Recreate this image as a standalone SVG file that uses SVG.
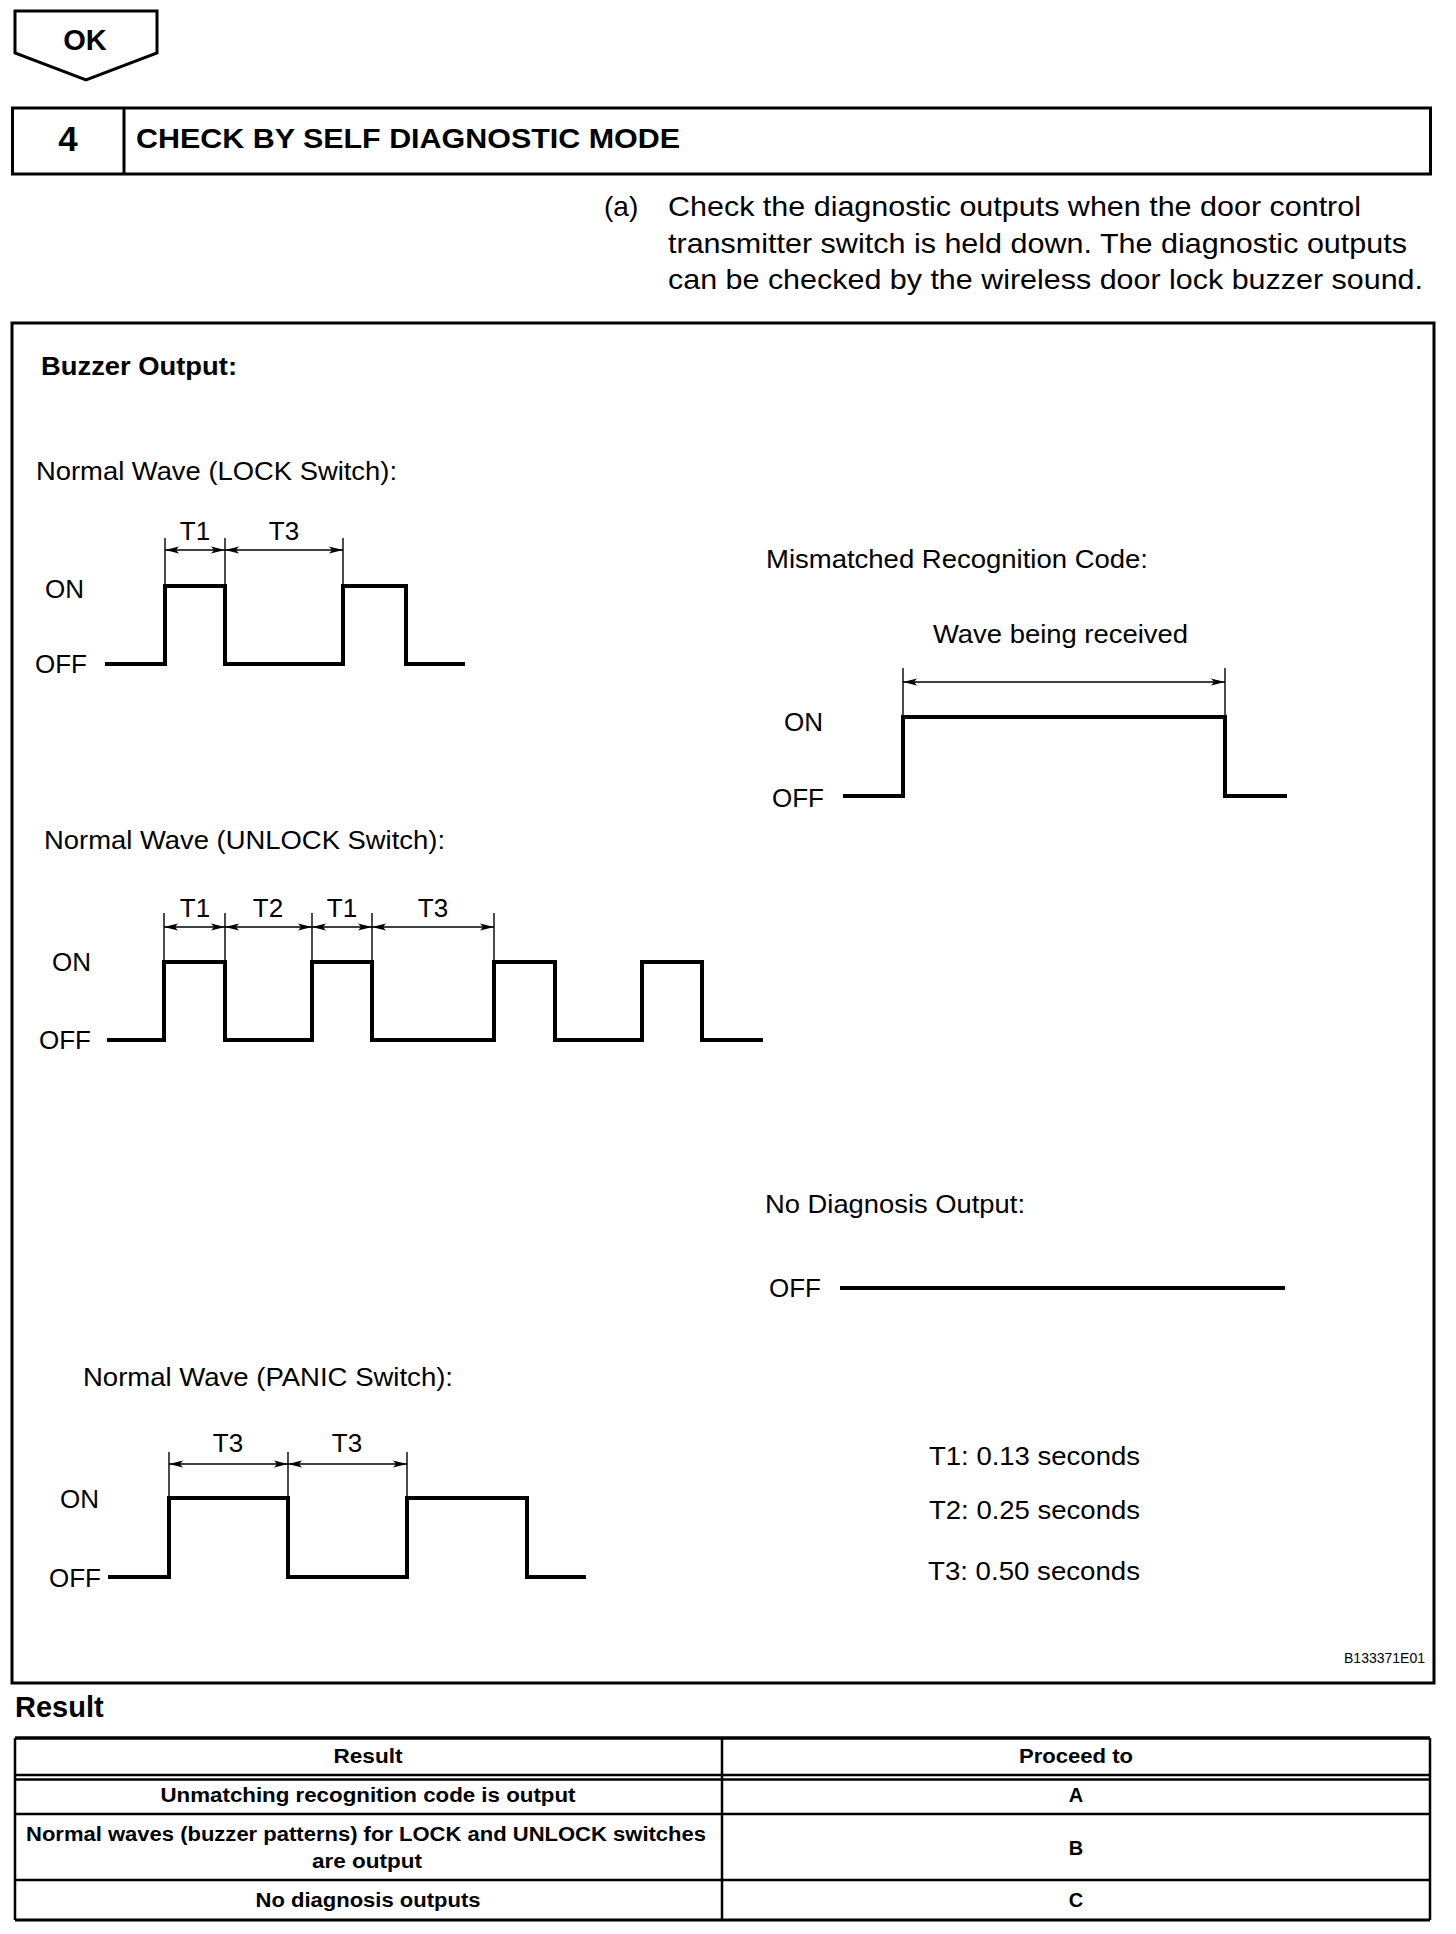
<svg xmlns="http://www.w3.org/2000/svg" width="1456" height="1934" viewBox="0 0 1456 1934">
<defs>
<style>
text{font-family:"Liberation Sans",Arial,Helvetica,sans-serif;fill:#000}
.b{font-weight:bold}
.lbl{font-size:26px}
.para{font-size:28px}
.tbl{font-size:20px;font-weight:bold;text-anchor:middle}
.frame{fill:none;stroke:#000;stroke-width:3}
.wave{fill:none;stroke:#000;stroke-width:4;stroke-linejoin:miter;stroke-linecap:butt}
.ext{stroke:#000;stroke-width:1.4;fill:none}
.dim{stroke:#000;stroke-width:1.6;fill:none;marker-start:url(#arr);marker-end:url(#arr)}
.tl{stroke:#000;stroke-width:2.5;fill:none}
</style>
<marker id="arr" viewBox="0 0 14 10" refX="14" refY="5" markerWidth="14" markerHeight="10" markerUnits="userSpaceOnUse" orient="auto-start-reverse">
<path d="M0,1.5 L14,5 L0,8.5 L3,5 Z" fill="#000"/>
</marker>
</defs>
<rect width="1456" height="1934" fill="#fff"/>

<g id="ok-tag">
<path d="M15,11 H157 V53 L86,80 L15,53 Z" fill="#fff" stroke="#000" stroke-width="3" stroke-linejoin="miter"/>
<text x="85" y="50" class="b" font-size="29" text-anchor="middle">OK</text>
</g>

<g id="step-header">
<rect x="12.5" y="108" width="1418" height="66" class="frame" stroke-width="3.5"/>
<line x1="124" y1="108" x2="124" y2="174" stroke="#000" stroke-width="3"/>
<text x="68" y="151" class="b" font-size="35" text-anchor="middle">4</text>
<text x="136" y="148" class="b" font-size="28" textLength="544" lengthAdjust="spacingAndGlyphs">CHECK BY SELF DIAGNOSTIC MODE</text>
</g>

<g id="instruction">
<text x="604" y="216" class="para">(a)</text>
<text x="668" y="216" class="para" textLength="693" lengthAdjust="spacingAndGlyphs">Check the diagnostic outputs when the door control</text>
<text x="668" y="253" class="para" textLength="739" lengthAdjust="spacingAndGlyphs">transmitter switch is held down. The diagnostic outputs</text>
<text x="668" y="289" class="para" textLength="755" lengthAdjust="spacingAndGlyphs">can be checked by the wireless door lock buzzer sound.</text>
</g>

<g id="figure-frame">
<rect x="12" y="323" width="1422" height="1360" class="frame"/>
<text x="41" y="375" class="b" font-size="26" textLength="196" lengthAdjust="spacingAndGlyphs">Buzzer Output:</text>
<text x="1425" y="1663" font-size="14" text-anchor="end">B133371E01</text>
</g>

<g id="lock-wave">
<text x="36" y="480" class="lbl" textLength="361" lengthAdjust="spacingAndGlyphs">Normal Wave (LOCK Switch):</text>
<text x="45" y="598" class="lbl">ON</text>
<text x="35" y="673" class="lbl">OFF</text>
<text x="195" y="540" class="lbl" text-anchor="middle">T1</text>
<text x="284" y="540" class="lbl" text-anchor="middle">T3</text>
<path class="wave" d="M105,664 H165 V586 H225 V664 H343 V586 H406 V664 H465"/>
</g>

<g id="mismatch-wave">
<text x="766" y="568" class="lbl" textLength="382" lengthAdjust="spacingAndGlyphs">Mismatched Recognition Code:</text>
<text x="933" y="643" class="lbl" textLength="255" lengthAdjust="spacingAndGlyphs">Wave being received</text>
<text x="784" y="731" class="lbl">ON</text>
<text x="772" y="807" class="lbl">OFF</text>
<path class="wave" d="M843,796 H903 V717 H1225 V796 H1287"/>
</g>

<g id="unlock-wave">
<text x="44" y="849" class="lbl" textLength="401" lengthAdjust="spacingAndGlyphs">Normal Wave (UNLOCK Switch):</text>
<text x="52" y="971" class="lbl">ON</text>
<text x="39" y="1049" class="lbl">OFF</text>
<text x="195" y="917" class="lbl" text-anchor="middle">T1</text>
<text x="268" y="917" class="lbl" text-anchor="middle">T2</text>
<text x="342" y="917" class="lbl" text-anchor="middle">T1</text>
<text x="433" y="917" class="lbl" text-anchor="middle">T3</text>
<path class="wave" d="M107,1040 H164 V962 H225 V1040 H312 V962 H372 V1040 H494 V962 H555 V1040 H642 V962 H702 V1040 H763"/>
</g>

<g id="no-diagnosis">
<text x="765" y="1213" class="lbl" textLength="260" lengthAdjust="spacingAndGlyphs">No Diagnosis Output:</text>
<text x="769" y="1297" class="lbl">OFF</text>
<path class="wave" d="M840,1288 H1285"/>
</g>

<g id="panic-wave">
<text x="83" y="1386" class="lbl" textLength="370" lengthAdjust="spacingAndGlyphs">Normal Wave (PANIC Switch):</text>
<text x="60" y="1508" class="lbl">ON</text>
<text x="49" y="1587" class="lbl">OFF</text>
<text x="228" y="1452" class="lbl" text-anchor="middle">T3</text>
<text x="347" y="1452" class="lbl" text-anchor="middle">T3</text>
<path class="wave" d="M108,1577 H169 V1498 H288 V1577 H407 V1498 H527 V1577 H586"/>
</g>

<g id="timing-legend">
<text x="929" y="1465" class="lbl" textLength="211" lengthAdjust="spacingAndGlyphs">T1: 0.13 seconds</text>
<text x="929" y="1519" class="lbl" textLength="211" lengthAdjust="spacingAndGlyphs">T2: 0.25 seconds</text>
<text x="928" y="1580" class="lbl" textLength="212" lengthAdjust="spacingAndGlyphs">T3: 0.50 seconds</text>
</g>

<g id="connectors">
<path class="ext" d="M165,538 V584 M225,538 V584 M343,538 V584"/>
<line class="dim" x1="165" y1="550" x2="225" y2="550"/>
<line class="dim" x1="225" y1="550" x2="343" y2="550"/>
<path class="ext" d="M903,668 V715 M1225,668 V715"/>
<line class="dim" x1="903" y1="682" x2="1225" y2="682"/>
<path class="ext" d="M164,913 V960 M225,913 V960 M312,913 V960 M372,913 V960 M494,913 V960"/>
<line class="dim" x1="164" y1="927" x2="225" y2="927"/>
<line class="dim" x1="225" y1="927" x2="312" y2="927"/>
<line class="dim" x1="312" y1="927" x2="372" y2="927"/>
<line class="dim" x1="372" y1="927" x2="494" y2="927"/>
<path class="ext" d="M169,1452 V1496 M288,1452 V1496 M407,1452 V1496"/>
<line class="dim" x1="169" y1="1464" x2="288" y2="1464"/>
<line class="dim" x1="288" y1="1464" x2="407" y2="1464"/>
</g>

<g id="result-heading">
<text x="15" y="1717" class="b" font-size="29">Result</text>
</g>

<g id="result-table">
<line x1="15" y1="1738" x2="1430" y2="1738" stroke="#000" stroke-width="3.5"/>
<line class="tl" x1="15" y1="1775" x2="1430" y2="1775" stroke-width="2"/>
<line class="tl" x1="15" y1="1779.5" x2="1430" y2="1779.5" stroke-width="2"/>
<line class="tl" x1="15" y1="1814" x2="1430" y2="1814" stroke-width="3"/>
<line class="tl" x1="15" y1="1880" x2="1430" y2="1880" stroke-width="3"/>
<line x1="15" y1="1920" x2="1430" y2="1920" stroke="#000" stroke-width="3"/>
<line class="tl" x1="15" y1="1738" x2="15" y2="1920" stroke-width="2"/>
<line class="tl" x1="722" y1="1738" x2="722" y2="1920" stroke-width="2"/>
<line class="tl" x1="1430" y1="1738" x2="1430" y2="1920" stroke-width="2.5"/>
<text class="tbl" x="368" y="1763" textLength="69" lengthAdjust="spacingAndGlyphs">Result</text>
<text class="tbl" x="1076" y="1763" textLength="114" lengthAdjust="spacingAndGlyphs">Proceed to</text>
<text class="tbl" x="368" y="1802" textLength="415" lengthAdjust="spacingAndGlyphs">Unmatching recognition code is output</text>
<text class="tbl" x="1076" y="1802">A</text>
<text class="tbl" x="366" y="1841" textLength="680" lengthAdjust="spacingAndGlyphs">Normal waves (buzzer patterns) for LOCK and UNLOCK switches</text>
<text class="tbl" x="367" y="1868" textLength="110" lengthAdjust="spacingAndGlyphs">are output</text>
<text class="tbl" x="1076" y="1855">B</text>
<text class="tbl" x="368" y="1907" textLength="225" lengthAdjust="spacingAndGlyphs">No diagnosis outputs</text>
<text class="tbl" x="1076" y="1907">C</text>
</g>
</svg>
